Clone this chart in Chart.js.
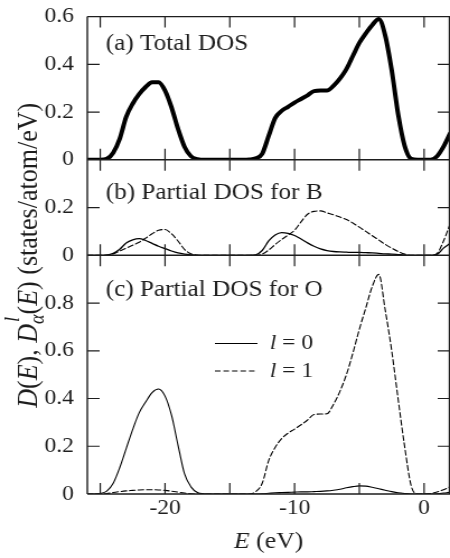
<!DOCTYPE html>
<html>
<head>
<meta charset="utf-8">
<script src="https://cdn.jsdelivr.net/npm/chart.js@4.4.1/dist/chart.umd.min.js"></script>
<style>
  html, body { margin: 0; padding: 0; background: #fff; overflow: hidden; }
  #wrap { width: 402px; height: 558px; transform: scaleX(1.1194); transform-origin: 0 0; }
</style>
</head>
<body>
<div id="wrap"><canvas id="dos" width="402" height="558"></canvas></div>
<script>
// energy grid (eV)
var energy = [
  -26, -25.5, -25, -24.5, -24, -23.5, -23, -22.5,
  -22, -21.5, -21, -20.5, -20, -19.5, -19, -18.5,
  -18, -17.5, -17, -16.5, -16, -15.5, -15, -14.5,
  -14, -13.5, -13, -12.5, -12, -11.5, -11, -10.5,
  -10, -9.5, -9, -8.5, -8, -7.5, -7, -6.5,
  -6, -5.5, -5, -4.5, -4, -3.5, -3, -2.5,
  -2, -1.5, -1, -0.5, 0, 0.5, 1, 1.5,
  2
];

// (a) total DOS
var totalDos = [
  0, 0, 0, 0.004, 0.03, 0.088, 0.18, 0.235,
  0.275, 0.305, 0.325, 0.325, 0.29, 0.22, 0.13, 0.055,
  0.015, 0.003, 0, 0, 0, 0, 0, 0,
  0, 0.001, 0.006, 0.025, 0.1, 0.175, 0.205, 0.222,
  0.24, 0.255, 0.27, 0.288, 0.29, 0.29, 0.31, 0.34,
  0.38, 0.435, 0.49, 0.53, 0.565, 0.59, 0.52, 0.375,
  0.19, 0.058, 0.004, 0, 0, 0, 0.015, 0.055,
  0.11
];

// (b) partial DOS for B, l = 0 and l = 1
var bS = [
  0, 0, 0, 0.001, 0.008, 0.025, 0.052, 0.065,
  0.07, 0.062, 0.05, 0.038, 0.028, 0.018, 0.01, 0.005,
  0.002, 0, 0, 0, 0, 0, 0, 0,
  0, 0, 0.002, 0.02, 0.06, 0.085, 0.095, 0.092,
  0.083, 0.068, 0.052, 0.038, 0.027, 0.02, 0.016, 0.014,
  0.013, 0.012, 0.012, 0.011, 0.01, 0.008, 0.006, 0.005,
  0.003, 0.001, 0, 0, 0, 0, 0.004, 0.03,
  0.05
];
var bP = [
  0, 0, 0, 0.001, 0.006, 0.018, 0.03, 0.042,
  0.055, 0.072, 0.09, 0.105, 0.108, 0.09, 0.06, 0.025,
  0.006, 0.001, 0, 0, 0, 0, 0, 0,
  0, 0, 0, 0.005, 0.022, 0.045, 0.066, 0.085,
  0.105, 0.14, 0.172, 0.184, 0.186, 0.178, 0.17, 0.16,
  0.15, 0.135, 0.118, 0.1, 0.082, 0.064, 0.046, 0.03,
  0.016, 0.005, 0, 0, 0, 0, 0.008, 0.06,
  0.13
];

// (c) partial DOS for O, l = 0 and l = 1
var oS = [
  0, 0, 0.002, 0.012, 0.045, 0.11, 0.19, 0.27,
  0.34, 0.385, 0.425, 0.44, 0.41, 0.33, 0.205, 0.085,
  0.03, 0.006, 0.001, 0, 0, 0, 0, 0,
  0, 0, 0, 0.001, 0.003, 0.005, 0.006, 0.007,
  0.008, 0.009, 0.009, 0.01, 0.011, 0.013, 0.016, 0.02,
  0.026, 0.031, 0.034, 0.033, 0.028, 0.022, 0.016, 0.01,
  0.005, 0.002, 0, 0, 0, 0, 0.001, 0.004,
  0.008
];
var oP = [
  0, 0, 0, 0.002, 0.006, 0.01, 0.013, 0.015,
  0.017, 0.018, 0.018, 0.017, 0.015, 0.012, 0.008, 0.004,
  0.001, 0, 0, 0, 0, 0, 0, 0,
  0, 0, 0.01, 0.045, 0.14, 0.195, 0.232, 0.255,
  0.272, 0.29, 0.31, 0.333, 0.335, 0.336, 0.375, 0.43,
  0.5, 0.59, 0.69, 0.78, 0.87, 0.92, 0.77, 0.6,
  0.395, 0.198, 0.035, 0, 0, 0.002, 0.008, 0.018,
  0.03
];

var xTicks = [-25, -20, -15, -10, -5, 0];
var xLabels = ['', '-20', '', '-10', '', '0'];
var yTicksA = [0, 0.2, 0.4, 0.6];
var yLabelsA = ['0', '0.2', '0.4', '0.6'];
var yTicksB = [0, 0.2, 0.4];
var yLabelsB = ['0', '0.2', ''];
var yTicksC = [0, 0.2, 0.4, 0.6, 0.8, 1.0];
var yLabelsC = ['0', '0.2', '0.4', '0.6', '0.8', ''];
var panelTitles = ['(a) Total DOS', '(b) Partial DOS for B', '(c) Partial DOS for O'];

var SERIF = "'Liberation Serif', 'Times New Roman', Times, serif";
var INK = '#1e1e1e';

function pts(vals) {
  return energy.map(function (e, i) { return { x: e, y: vals[i] }; });
}

// text made of pieces with different styles
function richWidth(ctx, parts) {
  var w = 0;
  parts.forEach(function (p) {
    ctx.font = (p.it ? 'italic ' : '') + p.size + 'px ' + SERIF;
    p.w = ctx.measureText(p.t).width;
    if (!p.noAdvance) w += p.w;
  });
  return w;
}
function drawRich(ctx, parts, x, y) {
  parts.forEach(function (p) {
    ctx.font = (p.it ? 'italic ' : '') + p.size + 'px ' + SERIF;
    ctx.fillText(p.t, x + (p.dx || 0), y + (p.dy || 0));
    if (!p.noAdvance) x += p.w;
  });
}

function yAxis(stackWeight, max, ticks, labels) {
  return {
    type: 'linear', position: 'left', stack: 'panels', stackWeight: stackWeight,
    min: 0, max: max,
    grid: { display: false }, border: { display: false },
    afterBuildTicks: function (s) { s.ticks = ticks.map(function (v) { return { value: v }; }); },
    afterFit: function (s) { s.width = 78; },
    ticks: {
      padding: 4, color: INK, autoSkip: false, font: { family: SERIF, size: 21 },
      callback: function (v, i) { return labels[i]; }
    }
  };
}

var frame = {
  id: 'frame',
  afterDatasetsDraw: function (chart) {
    var ctx = chart.ctx, a = chart.chartArea, sx = chart.scales.x;
    var panels = [chart.scales.ya, chart.scales.yb, chart.scales.yc];
    var L = 11;
    ctx.save();
    ctx.strokeStyle = INK;
    ctx.lineWidth = 1.4;
    ctx.beginPath();
    ctx.moveTo(a.left, a.top); ctx.lineTo(a.left, a.bottom);
    ctx.moveTo(a.right - 0.5, a.top); ctx.lineTo(a.right - 0.5, a.bottom);
    ctx.moveTo(a.left, panels[0].top); ctx.lineTo(a.right, panels[0].top);
    panels.forEach(function (p) {
      ctx.moveTo(a.left, p.bottom); ctx.lineTo(a.right, p.bottom);
    });
    ctx.stroke();
    ctx.lineWidth = 1.2;
    ctx.beginPath();
    panels.forEach(function (p) {
      sx.ticks.forEach(function (t) {
        var x = sx.getPixelForValue(t.value);
        ctx.moveTo(x, p.top); ctx.lineTo(x, p.top + L);
        ctx.moveTo(x, p.bottom); ctx.lineTo(x, p.bottom - L);
      });
      p.ticks.forEach(function (t) {
        if (t.value === p.min || t.value === p.max) return;
        var y = p.getPixelForValue(t.value);
        ctx.moveTo(a.left, y); ctx.lineTo(a.left + L, y);
        ctx.moveTo(a.right, y); ctx.lineTo(a.right - L, y);
      });
    });
    ctx.stroke();
    ctx.restore();
  },
  afterDraw: function (chart) {
    var ctx = chart.ctx, a = chart.chartArea, sx = chart.scales.x;
    var panels = [chart.scales.ya, chart.scales.yb, chart.scales.yc];
    ctx.save();
    ctx.fillStyle = INK;
    ctx.textBaseline = 'middle';
    // x tick labels
    ctx.textAlign = 'center';
    ctx.font = '21px ' + SERIF;
    sx.ticks.forEach(function (t, i) {
      if (xLabels[i]) ctx.fillText(xLabels[i], sx.getPixelForValue(t.value), a.bottom + 14);
    });
    ctx.textAlign = 'left';
    // panel titles
    var titleY = [27, 33, 35];
    panels.forEach(function (p, i) {
      ctx.font = '22.5px ' + SERIF;
      ctx.fillText(panelTitles[i], a.left + 16.5, p.top + titleY[i]);
    });
    // legend in panel (c)
    var legY = [343.5, 371];
    ctx.strokeStyle = '#000';
    ctx.lineWidth = 1.2;
    legY.forEach(function (y, i) {
      ctx.setLineDash(i === 0 ? [] : [5, 2.6]);
      ctx.beginPath(); ctx.moveTo(192, y); ctx.lineTo(230, y); ctx.stroke();
      var parts = [{ t: 'l', it: true, size: 21 }, { t: ' = ' + i, size: 21 }];
      richWidth(ctx, parts);
      drawRich(ctx, parts, 241, y);
    });
    ctx.setLineDash([]);
    // x axis title
    var xt = [{ t: 'E', it: true, size: 23 }, { t: ' (eV)', size: 23 }];
    var w = richWidth(ctx, xt);
    drawRich(ctx, xt, (a.left + a.right) / 2 - w / 2, 542);
    // y axis title
    ctx.textBaseline = 'alphabetic';
    var fs = 26;
    var yt = [
      { t: 'D', it: true, size: fs }, { t: '(', size: fs }, { t: 'E', it: true, size: fs },
      { t: '), ', size: fs }, { t: 'D', it: true, size: fs },
      { t: 'l', it: true, size: fs * 0.7, dx: 2, dy: -fs * 0.62, noAdvance: true },
      { t: '\u03b1', it: true, size: fs * 0.7, dy: fs * 0.22 },
      { t: '(', size: fs }, { t: 'E', it: true, size: fs }, { t: ') (states/atom/eV)', size: fs }
    ];
    var wy = richWidth(ctx, yt);
    ctx.translate(33, (a.top + a.bottom) / 2);
    ctx.rotate(-Math.PI / 2);
    drawRich(ctx, yt, -wy / 2, 0);
    ctx.restore();
  }
};

new Chart(document.getElementById('dos'), {
  type: 'line',
  data: {
    datasets: [
      { data: pts(totalDos), yAxisID: 'ya', borderColor: '#000', borderWidth: 4 },
      { data: pts(bS), yAxisID: 'yb', borderColor: '#000', borderWidth: 1.3 },
      { data: pts(bP), yAxisID: 'yb', borderColor: '#000', borderWidth: 1.1, borderDash: [5, 2.6] },
      { data: pts(oS), yAxisID: 'yc', borderColor: '#000', borderWidth: 1.1 },
      { data: pts(oP), yAxisID: 'yc', borderColor: '#000', borderWidth: 1.1, borderDash: [5, 2.6] }
    ]
  },
  options: {
    responsive: false,
    animation: false,
    events: [],
    layout: { padding: { top: 10, right: 0, left: 0, bottom: 0 } },
    elements: {
      point: { radius: 0 },
      line: { cubicInterpolationMode: 'monotone', borderCapStyle: 'round', borderJoinStyle: 'round' }
    },
    plugins: { legend: { display: false }, tooltip: { enabled: false } },
    scales: {
      x: {
        type: 'linear', position: 'bottom', min: -26, max: 2,
        grid: { display: false }, border: { display: false },
        afterBuildTicks: function (s) { s.ticks = xTicks.map(function (v) { return { value: v }; }); },
        afterFit: function (s) { s.height = 64; },
        ticks: { display: false }
      },
      yc: yAxis(1.0, 1.0, yTicksC, yLabelsC),
      yb: yAxis(0.4, 0.4, yTicksB, yLabelsB),
      ya: yAxis(0.6, 0.6, yTicksA, yLabelsA)
    }
  },
  plugins: [frame]
});
</script>
</body>
</html>
